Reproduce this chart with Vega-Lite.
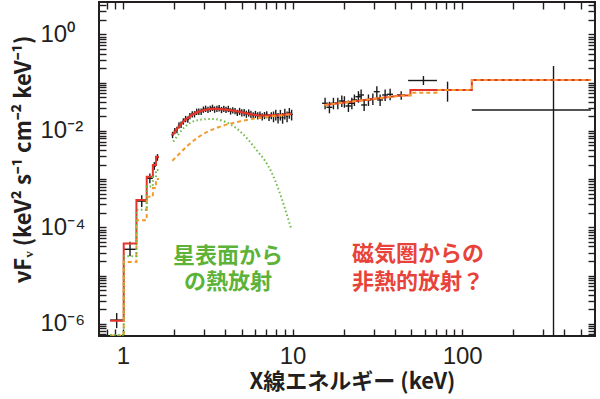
{
 "$schema": "https://vega.github.io/schema/vega-lite/v6.json",
 "width": 496, "height": 334,
 "autosize": {"type": "none"},
 "padding": {"left": 99, "top": 2, "right": 5, "bottom": 63},
 "background": "white",
 "config": {
  "view": {"stroke": "#231f20", "strokeWidth": 2},
  "axis": {"grid": false, "domain": false, "ticks": true, "tickColor": "#231f20", "tickWidth": 1.4, "labelColor": "#231f20", "titleColor": "#231f20", "labelFont": "Liberation Sans", "labelFontSize": 24, "labelOverlap": false, "labelFlush": false}
 },
 "datasets": {
  "pts": [
   {"x":0.918,"xlo":0.84,"xhi":1.0,"y":1.19e-6,"ylo":8.1e-7,"yhi":1.67e-6},
   {"x":1.10,"xlo":1.01,"xhi":1.20,"y":3.5e-5,"ylo":2.5e-5,"yhi":5.0e-5},
   {"x":1.29,"xlo":1.20,"xhi":1.38,"y":3.5e-4,"ylo":2.65e-4,"yhi":4.6e-4},
   {"x":1.44,"xlo":1.38,"xhi":1.50,"y":1.04e-3,"ylo":8.2e-4,"yhi":1.3e-3},
   {"x":1.53,"xlo":1.50,"xhi":1.565,"y":1.87e-3,"ylo":1.55e-3,"yhi":2.25e-3},
   {"x":1.597,"xlo":1.565,"xhi":1.63,"y":2.83e-3,"ylo":2.4e-3,"yhi":3.3e-3},
   {"x":1.96,"xlo":1.931,"xhi":1.989,"y":0.0083,"ylo":0.00706,"yhi":0.00955},
   {"x":2.02,"xlo":1.990,"xhi":2.050,"y":0.00998,"ylo":0.00848,"yhi":0.01148},
   {"x":2.08,"xlo":2.049,"xhi":2.111,"y":0.01056,"ylo":0.00898,"yhi":0.01214},
   {"x":2.14,"xlo":2.108,"xhi":2.172,"y":0.01313,"ylo":0.01116,"yhi":0.0151},
   {"x":2.20,"xlo":2.167,"xhi":2.233,"y":0.01358,"ylo":0.01154,"yhi":0.01562},
   {"x":2.27,"xlo":2.236,"xhi":2.304,"y":0.01586,"ylo":0.01348,"yhi":0.01824},
   {"x":2.34,"xlo":2.305,"xhi":2.375,"y":0.01781,"ylo":0.01514,"yhi":0.02048},
   {"x":2.41,"xlo":2.374,"xhi":2.446,"y":0.01729,"ylo":0.0147,"yhi":0.01988},
   {"x":2.48,"xlo":2.443,"xhi":2.517,"y":0.0204,"ylo":0.01734,"yhi":0.02346},
   {"x":2.56,"xlo":2.522,"xhi":2.598,"y":0.02236,"ylo":0.01901,"yhi":0.02571},
   {"x":2.64,"xlo":2.600,"xhi":2.680,"y":0.02234,"ylo":0.01899,"yhi":0.02569},
   {"x":2.72,"xlo":2.679,"xhi":2.761,"y":0.0252,"ylo":0.02142,"yhi":0.02898},
   {"x":2.80,"xlo":2.758,"xhi":2.842,"y":0.02525,"ylo":0.02146,"yhi":0.02904},
   {"x":2.89,"xlo":2.847,"xhi":2.933,"y":0.02522,"ylo":0.02144,"yhi":0.029},
   {"x":2.98,"xlo":2.935,"xhi":3.025,"y":0.02787,"ylo":0.02369,"yhi":0.03205},
   {"x":3.07,"xlo":3.024,"xhi":3.116,"y":0.02904,"ylo":0.02468,"yhi":0.0334},
   {"x":3.17,"xlo":3.122,"xhi":3.218,"y":0.02752,"ylo":0.02339,"yhi":0.03165},
   {"x":3.27,"xlo":3.221,"xhi":3.319,"y":0.02894,"ylo":0.0246,"yhi":0.03328},
   {"x":3.37,"xlo":3.319,"xhi":3.421,"y":0.03039,"ylo":0.02583,"yhi":0.03495},
   {"x":3.47,"xlo":3.418,"xhi":3.522,"y":0.02793,"ylo":0.02374,"yhi":0.03212},
   {"x":3.58,"xlo":3.526,"xhi":3.634,"y":0.02907,"ylo":0.02471,"yhi":0.03343},
   {"x":3.69,"xlo":3.635,"xhi":3.745,"y":0.02982,"ylo":0.02535,"yhi":0.03429},
   {"x":3.81,"xlo":3.753,"xhi":3.867,"y":0.02735,"ylo":0.02325,"yhi":0.03145},
   {"x":3.93,"xlo":3.871,"xhi":3.989,"y":0.02902,"ylo":0.02467,"yhi":0.03337},
   {"x":4.05,"xlo":3.989,"xhi":4.111,"y":0.0275,"ylo":0.02338,"yhi":0.03163},
   {"x":4.18,"xlo":4.117,"xhi":4.243,"y":0.02883,"ylo":0.02451,"yhi":0.03315},
   {"x":4.31,"xlo":4.245,"xhi":4.375,"y":0.02563,"ylo":0.02179,"yhi":0.02947},
   {"x":4.44,"xlo":4.373,"xhi":4.507,"y":0.02699,"ylo":0.02294,"yhi":0.03104},
   {"x":4.58,"xlo":4.511,"xhi":4.649,"y":0.02596,"ylo":0.02207,"yhi":0.02985},
   {"x":4.72,"xlo":4.649,"xhi":4.791,"y":0.02394,"ylo":0.02035,"yhi":0.02753},
   {"x":4.87,"xlo":4.797,"xhi":4.943,"y":0.02569,"ylo":0.02132,"yhi":0.03006},
   {"x":5.02,"xlo":4.945,"xhi":5.095,"y":0.02406,"ylo":0.01997,"yhi":0.02815},
   {"x":5.18,"xlo":5.102,"xhi":5.258,"y":0.02428,"ylo":0.02015,"yhi":0.02841},
   {"x":5.34,"xlo":5.260,"xhi":5.420,"y":0.0225,"ylo":0.01868,"yhi":0.02633},
   {"x":5.51,"xlo":5.427,"xhi":5.593,"y":0.02384,"ylo":0.01979,"yhi":0.02789},
   {"x":5.68,"xlo":5.595,"xhi":5.765,"y":0.0223,"ylo":0.01851,"yhi":0.02609},
   {"x":5.86,"xlo":5.772,"xhi":5.948,"y":0.02093,"ylo":0.01737,"yhi":0.02449},
   {"x":6.04,"xlo":5.949,"xhi":6.131,"y":0.02226,"ylo":0.01848,"yhi":0.02604},
   {"x":6.23,"xlo":6.137,"xhi":6.323,"y":0.02078,"ylo":0.01725,"yhi":0.02431},
   {"x":6.42,"xlo":6.324,"xhi":6.516,"y":0.02163,"ylo":0.01795,"yhi":0.02531},
   {"x":6.62,"xlo":6.521,"xhi":6.719,"y":0.01976,"ylo":0.0164,"yhi":0.02312},
   {"x":6.83,"xlo":6.728,"xhi":6.932,"y":0.02111,"ylo":0.01752,"yhi":0.0247},
   {"x":7.04,"xlo":6.934,"xhi":7.146,"y":0.02194,"ylo":0.01821,"yhi":0.02567},
   {"x":7.26,"xlo":7.151,"xhi":7.369,"y":0.01925,"ylo":0.01598,"yhi":0.02252},
   {"x":7.49,"xlo":7.378,"xhi":7.602,"y":0.02091,"ylo":0.01736,"yhi":0.02446},
   {"x":7.72,"xlo":7.604,"xhi":7.836,"y":0.02018,"ylo":0.01514,"yhi":0.02523},
   {"x":7.96,"xlo":7.841,"xhi":8.079,"y":0.02195,"ylo":0.01646,"yhi":0.02744},
   {"x":8.21,"xlo":8.087,"xhi":8.333,"y":0.0189,"ylo":0.01418,"yhi":0.02363},
   {"x":8.47,"xlo":8.343,"xhi":8.597,"y":0.02184,"ylo":0.01638,"yhi":0.0273},
   {"x":8.73,"xlo":8.599,"xhi":8.861,"y":0.01883,"ylo":0.01412,"yhi":0.02354},
   {"x":9.00,"xlo":8.865,"xhi":9.135,"y":0.0229,"ylo":0.01718,"yhi":0.02863},
   {"x":9.28,"xlo":9.141,"xhi":9.419,"y":0.02015,"ylo":0.01511,"yhi":0.02519},
   {"x":9.57,"xlo":9.426,"xhi":9.714,"y":0.02387,"ylo":0.0179,"yhi":0.02984},
   {"x":9.87,"xlo":9.722,"xhi":10.018,"y":0.02195,"ylo":0.01646,"yhi":0.02744},
   {"x":15.55,"xlo":14.93,"xhi":16.17,"y":0.0374,"ylo":0.0281,"yhi":0.0486},
   {"x":16.49,"xlo":15.83,"xhi":17.15,"y":0.0309,"ylo":0.0232,"yhi":0.0402},
   {"x":17.41,"xlo":16.71,"xhi":18.11,"y":0.0374,"ylo":0.0281,"yhi":0.0486},
   {"x":18.48,"xlo":17.74,"xhi":19.22,"y":0.0374,"ylo":0.0281,"yhi":0.0486},
   {"x":19.51,"xlo":18.73,"xhi":20.29,"y":0.0417,"ylo":0.0313,"yhi":0.0542},
   {"x":20.21,"xlo":19.40,"xhi":21.02,"y":0.0403,"ylo":0.0302,"yhi":0.0524},
   {"x":21.34,"xlo":20.49,"xhi":22.19,"y":0.0329,"ylo":0.0247,"yhi":0.0428},
   {"x":22.36,"xlo":21.47,"xhi":23.25,"y":0.0374,"ylo":0.0281,"yhi":0.0486},
   {"x":23.15,"xlo":22.22,"xhi":24.08,"y":0.0438,"ylo":0.0329,"yhi":0.0569},
   {"x":24.45,"xlo":23.47,"xhi":25.43,"y":0.0512,"ylo":0.0384,"yhi":0.0666},
   {"x":25.36,"xlo":24.35,"xhi":26.37,"y":0.0556,"ylo":0.0417,"yhi":0.0723},
   {"x":26.42,"xlo":25.36,"xhi":27.48,"y":0.0345,"ylo":0.0259,"yhi":0.0449},
   {"x":28.01,"xlo":26.89,"xhi":29.13,"y":0.0438,"ylo":0.0329,"yhi":0.0569},
   {"x":29.74,"xlo":28.55,"xhi":30.93,"y":0.0459,"ylo":0.0344,"yhi":0.0597},
   {"x":31.39,"xlo":30.13,"xhi":32.65,"y":0.0651,"ylo":0.0488,"yhi":0.0846},
   {"x":32.83,"xlo":31.52,"xhi":34.14,"y":0.0438,"ylo":0.0329,"yhi":0.0569},
   {"x":35.13,"xlo":33.72,"xhi":36.54,"y":0.0556,"ylo":0.0417,"yhi":0.0723},
   {"x":37.6,"xlo":36.1,"xhi":39.1,"y":0.0574,"ylo":0.0431,"yhi":0.0746},
   {"x":43.7,"xlo":41.2,"xhi":46.1,"y":0.0556,"ylo":0.0445,"yhi":0.0667},
   {"x":59.1,"xlo":48.0,"xhi":71.0,"y":0.111,"ylo":0.0896,"yhi":0.1377},
   {"x":82.0,"xlo":70.3,"xhi":114,"y":0.0706,"ylo":0.0404,"yhi":0.105},
   {"x":345.6,"xlo":114,"xhi":574,"y":0.0271,"ylo":1e-8,"yhi":0.222}
  ],
  "model": [
   {"comp":"total","part":"low","o":1,"x":0.84,"y":1.15e-6},
   {"comp":"total","part":"low","o":2,"x":1.01,"y":1.15e-6},
   {"comp":"total","part":"low","o":3,"x":1.01,"y":4.6e-5},
   {"comp":"total","part":"low","o":4,"x":1.20,"y":4.6e-5},
   {"comp":"total","part":"low","o":5,"x":1.20,"y":3.7e-4},
   {"comp":"total","part":"low","o":6,"x":1.38,"y":3.7e-4},
   {"comp":"total","part":"low","o":7,"x":1.38,"y":1.12e-3},
   {"comp":"total","part":"low","o":8,"x":1.50,"y":1.12e-3},
   {"comp":"total","part":"low","o":9,"x":1.50,"y":1.96e-3},
   {"comp":"total","part":"low","o":10,"x":1.565,"y":1.96e-3},
   {"comp":"total","part":"low","o":11,"x":1.565,"y":2.9e-3},
   {"comp":"total","part":"low","o":12,"x":1.63,"y":2.9e-3},
   {"comp":"total","part":"mid","o":1,"x":1.954,"y":0.0082},
   {"comp":"total","part":"mid","o":2,"x":2.22,"y":0.0144},
   {"comp":"total","part":"mid","o":3,"x":2.543,"y":0.0214},
   {"comp":"total","part":"mid","o":4,"x":3.046,"y":0.0272},
   {"comp":"total","part":"mid","o":5,"x":3.49,"y":0.0285},
   {"comp":"total","part":"mid","o":6,"x":4.18,"y":0.0272},
   {"comp":"total","part":"mid","o":7,"x":5.01,"y":0.0243},
   {"comp":"total","part":"mid","o":8,"x":6.01,"y":0.0214},
   {"comp":"total","part":"mid","o":9,"x":6.88,"y":0.0207},
   {"comp":"total","part":"mid","o":10,"x":8.25,"y":0.0212},
   {"comp":"total","part":"mid","o":11,"x":9.89,"y":0.0226},
   {"comp":"total","part":"high","o":1,"x":15.4,"y":0.0345},
   {"comp":"total","part":"high","o":2,"x":43.5,"y":0.054},
   {"comp":"total","part":"high","o":3,"x":49.5,"y":0.055},
   {"comp":"total","part":"high","o":4,"x":49.5,"y":0.0706},
   {"comp":"total","part":"high","o":5,"x":114,"y":0.0706},
   {"comp":"total","part":"high","o":6,"x":114,"y":0.1138},
   {"comp":"total","part":"high","o":7,"x":574,"y":0.1138},
   {"comp":"nonthermal","part":"low","o":1,"x":0.84,"y":5.7e-7},
   {"comp":"nonthermal","part":"low","o":2,"x":1.01,"y":5.7e-7},
   {"comp":"nonthermal","part":"low","o":3,"x":1.01,"y":1.9e-5},
   {"comp":"nonthermal","part":"low","o":4,"x":1.20,"y":1.9e-5},
   {"comp":"nonthermal","part":"low","o":5,"x":1.20,"y":1.4e-4},
   {"comp":"nonthermal","part":"low","o":6,"x":1.38,"y":1.4e-4},
   {"comp":"nonthermal","part":"low","o":7,"x":1.38,"y":4.3e-4},
   {"comp":"nonthermal","part":"low","o":8,"x":1.50,"y":4.3e-4},
   {"comp":"nonthermal","part":"low","o":9,"x":1.50,"y":6.5e-4},
   {"comp":"nonthermal","part":"low","o":10,"x":1.565,"y":6.5e-4},
   {"comp":"nonthermal","part":"low","o":11,"x":1.565,"y":1.0e-3},
   {"comp":"nonthermal","part":"low","o":12,"x":1.63,"y":1.0e-3},
   {"comp":"nonthermal","part":"mid","o":1,"x":1.954,"y":0.00241},
   {"comp":"nonthermal","part":"mid","o":2,"x":2.12,"y":0.0032},
   {"comp":"nonthermal","part":"mid","o":3,"x":2.4,"y":0.0049},
   {"comp":"nonthermal","part":"mid","o":4,"x":2.78,"y":0.0074},
   {"comp":"nonthermal","part":"mid","o":5,"x":3.65,"y":0.0119},
   {"comp":"nonthermal","part":"mid","o":6,"x":4.79,"y":0.0155},
   {"comp":"nonthermal","part":"mid","o":7,"x":6.28,"y":0.0186},
   {"comp":"nonthermal","part":"mid","o":8,"x":8.25,"y":0.0207},
   {"comp":"nonthermal","part":"mid","o":9,"x":9.89,"y":0.0222},
   {"comp":"nonthermal","part":"high","o":1,"x":15.4,"y":0.0345},
   {"comp":"nonthermal","part":"high","o":2,"x":43.5,"y":0.054},
   {"comp":"nonthermal","part":"high","o":3,"x":49.5,"y":0.055},
   {"comp":"nonthermal","part":"high","o":4,"x":49.5,"y":0.0621},
   {"comp":"nonthermal","part":"high","o":5,"x":70.3,"y":0.0621},
   {"comp":"nonthermal","part":"high","o":6,"x":70.3,"y":0.0706},
   {"comp":"nonthermal","part":"high","o":7,"x":114,"y":0.0706},
   {"comp":"nonthermal","part":"high","o":8,"x":114,"y":0.1138},
   {"comp":"nonthermal","part":"high","o":9,"x":574,"y":0.1138},
   {"comp":"thermal","part":"low","o":1,"x":0.84,"y":5.8e-7},
   {"comp":"thermal","part":"low","o":2,"x":1.01,"y":5.8e-7},
   {"comp":"thermal","part":"low","o":3,"x":1.01,"y":2.5e-5},
   {"comp":"thermal","part":"low","o":4,"x":1.20,"y":2.5e-5},
   {"comp":"thermal","part":"low","o":5,"x":1.20,"y":2.3e-4},
   {"comp":"thermal","part":"low","o":6,"x":1.38,"y":2.3e-4},
   {"comp":"thermal","part":"low","o":7,"x":1.38,"y":7.0e-4},
   {"comp":"thermal","part":"low","o":8,"x":1.50,"y":7.0e-4},
   {"comp":"thermal","part":"low","o":9,"x":1.50,"y":1.1e-3},
   {"comp":"thermal","part":"low","o":10,"x":1.565,"y":1.1e-3},
   {"comp":"thermal","part":"low","o":11,"x":1.565,"y":1.55e-3},
   {"comp":"thermal","part":"low","o":12,"x":1.63,"y":1.55e-3},
   {"comp":"thermal","part":"mid","o":1,"x":1.98,"y":0.006},
   {"comp":"thermal","part":"mid","o":2,"x":2.32,"y":0.0122},
   {"comp":"thermal","part":"mid","o":3,"x":2.78,"y":0.0168},
   {"comp":"thermal","part":"mid","o":4,"x":3.34,"y":0.0177},
   {"comp":"thermal","part":"mid","o":5,"x":4.0,"y":0.0155},
   {"comp":"thermal","part":"mid","o":6,"x":4.79,"y":0.0105},
   {"comp":"thermal","part":"mid","o":7,"x":5.49,"y":0.0065},
   {"comp":"thermal","part":"mid","o":8,"x":6.28,"y":0.0036},
   {"comp":"thermal","part":"mid","o":9,"x":6.88,"y":0.0024},
   {"comp":"thermal","part":"mid","o":10,"x":7.54,"y":0.00135},
   {"comp":"thermal","part":"mid","o":11,"x":8.25,"y":0.00062},
   {"comp":"thermal","part":"mid","o":12,"x":9.03,"y":0.00024},
   {"comp":"thermal","part":"mid","o":13,"x":9.8,"y":0.000095}
  ],
  "notes": [
   {"kind":"thermal","x":4.16,"y":2.54e-5,"t":"星表面から"},
   {"kind":"thermal","x":4.16,"y":7.33e-6,"t":"の熱放射"},
   {"kind":"nonthermal","x":22.44,"y":2.79e-5,"t":"磁気圏からの"},
   {"kind":"nonthermal","x":22.44,"y":7.43e-6,"t":"非熱的放射？"}
  ]
 },
 "resolve": {"axis": {"x": "independent", "y": "independent"}},
 "layer": [
  {
   "data": {"name": "pts"},
   "mark": {"type": "rule", "color": "#1a1a1a", "strokeWidth": 1.4, "clip": true},
   "encoding": {
    "x": {"field": "xlo", "type": "quantitative", "scale": {"type": "log", "domain": [0.722, 607], "nice": false},
     "axis": {"orient": "bottom",
      "values": [0.8,0.9,1,2,3,4,5,6,7,8,9,10,20,30,40,50,60,70,80,90,100,200,300,400,500,600],
      "labelExpr": "datum.value == 1 ? '1' : datum.value == 10 ? '10' : datum.value == 100 ? '100' : ''",
      "tickSize": -7, "labelPadding": 15,
      "title": "X線エネルギー (keV)", "titleFont": "Noto Sans CJK JP", "titleFontWeight": "bold", "titleFontSize": 22,
      "titleX": 253, "titleY": 45, "titleBaseline": "middle", "titleAlign": "center"}},
    "x2": {"field": "xhi"},
    "y": {"field": "y", "type": "quantitative", "scale": {"type": "log", "domain": [5.56e-7, 4.72], "nice": false},
     "axis": {"orient": "left",
      "values": [6e-7,7e-7,8e-7,9e-7,1e-6,2e-6,3e-6,4e-6,5e-6,6e-6,7e-6,8e-6,9e-6,1e-5,2e-5,3e-5,4e-5,5e-5,6e-5,7e-5,8e-5,9e-5,1e-4,2e-4,3e-4,4e-4,5e-4,6e-4,7e-4,8e-4,9e-4,0.001,0.002,0.003,0.004,0.005,0.006,0.007,0.008,0.009,0.01,0.02,0.03,0.04,0.05,0.06,0.07,0.08,0.09,0.1,0.2,0.3,0.4,0.5,0.6,0.7,0.8,0.9,1,2,3,4],
      "labelExpr": "datum.value == 1 ? '10⁰' : abs(datum.value/0.01 - 1) < 0.001 ? '10⁻²' : abs(datum.value/0.0001 - 1) < 0.001 ? '10⁻⁴' : abs(datum.value/0.000001 - 1) < 0.001 ? '10⁻⁶' : ''",
      "tickSize": -7, "labelAlign": "left", "labelPadding": 66,
      "title": "νFᵥ (keV² s⁻¹ cm⁻² keV⁻¹)", "titleFont": "Noto Sans CJK JP", "titleFontWeight": "bold", "titleFontSize": 22,
      "titleX": -76, "titleY": 157, "titleAngle": -90, "titleBaseline": "middle", "titleAlign": "center"}}
   }
  },
  {
   "data": {"name": "pts"},
   "mark": {"type": "rule", "color": "#1a1a1a", "strokeWidth": 1.4, "clip": true},
   "encoding": {
    "x": {"field": "x", "type": "quantitative", "scale": {"type": "log", "domain": [0.722, 607], "nice": false},
     "axis": {"orient": "top", "labels": false, "title": null, "tickSize": -7,
      "values": [0.8,0.9,1,2,3,4,5,6,7,8,9,10,20,30,40,50,60,70,80,90,100,200,300,400,500,600]}},
    "y": {"field": "ylo", "type": "quantitative", "scale": {"type": "log", "domain": [5.56e-7, 4.72], "nice": false},
     "axis": {"orient": "right", "labels": false, "title": null, "tickSize": -7,
      "values": [6e-7,7e-7,8e-7,9e-7,1e-6,2e-6,3e-6,4e-6,5e-6,6e-6,7e-6,8e-6,9e-6,1e-5,2e-5,3e-5,4e-5,5e-5,6e-5,7e-5,8e-5,9e-5,1e-4,2e-4,3e-4,4e-4,5e-4,6e-4,7e-4,8e-4,9e-4,0.001,0.002,0.003,0.004,0.005,0.006,0.007,0.008,0.009,0.01,0.02,0.03,0.04,0.05,0.06,0.07,0.08,0.09,0.1,0.2,0.3,0.4,0.5,0.6,0.7,0.8,0.9,1,2,3,4]}},
    "y2": {"field": "yhi"}
   }
  },
  {
   "data": {"name": "model"},
   "transform": [{"filter": "datum.comp == 'total' && datum.part != 'mid'"}],
   "mark": {"type": "line", "color": "#e5342a", "strokeWidth": 2, "clip": true},
   "encoding": {
    "x": {"field": "x", "type": "quantitative", "scale": {"type": "log", "domain": [0.722, 607], "nice": false}, "axis": null},
    "y": {"field": "y", "type": "quantitative", "scale": {"type": "log", "domain": [5.56e-7, 4.72], "nice": false}, "axis": null},
    "detail": {"field": "part"},
    "order": {"field": "o", "type": "quantitative"}
   }
  },
  {
   "data": {"name": "model"},
   "transform": [{"filter": "datum.comp == 'total' && datum.part == 'mid'"}],
   "mark": {"type": "line", "color": "#e5342a", "strokeWidth": 2.2, "interpolate": "monotone", "clip": true},
   "encoding": {
    "x": {"field": "x", "type": "quantitative", "scale": {"type": "log", "domain": [0.722, 607], "nice": false}, "axis": null},
    "y": {"field": "y", "type": "quantitative", "scale": {"type": "log", "domain": [5.56e-7, 4.72], "nice": false}, "axis": null},
    "order": {"field": "o", "type": "quantitative"}
   }
  },
  {
   "data": {"name": "model"},
   "transform": [{"filter": "datum.comp == 'nonthermal' && datum.part != 'mid'"}],
   "mark": {"type": "line", "color": "#f29a2c", "strokeWidth": 2, "strokeDash": [4, 3], "clip": true},
   "encoding": {
    "x": {"field": "x", "type": "quantitative", "scale": {"type": "log", "domain": [0.722, 607], "nice": false}, "axis": null},
    "y": {"field": "y", "type": "quantitative", "scale": {"type": "log", "domain": [5.56e-7, 4.72], "nice": false}, "axis": null},
    "detail": {"field": "part"},
    "order": {"field": "o", "type": "quantitative"}
   }
  },
  {
   "data": {"name": "model"},
   "transform": [{"filter": "datum.comp == 'nonthermal' && datum.part == 'mid'"}],
   "mark": {"type": "line", "color": "#f29a2c", "strokeWidth": 2, "strokeDash": [4, 3], "interpolate": "monotone", "clip": true},
   "encoding": {
    "x": {"field": "x", "type": "quantitative", "scale": {"type": "log", "domain": [0.722, 607], "nice": false}, "axis": null},
    "y": {"field": "y", "type": "quantitative", "scale": {"type": "log", "domain": [5.56e-7, 4.72], "nice": false}, "axis": null},
    "order": {"field": "o", "type": "quantitative"}
   }
  },
  {
   "data": {"name": "model"},
   "transform": [{"filter": "datum.comp == 'thermal' && datum.part != 'mid'"}],
   "mark": {"type": "line", "color": "#6dba44", "strokeWidth": 2, "strokeDash": [1.5, 2.5], "clip": true},
   "encoding": {
    "x": {"field": "x", "type": "quantitative", "scale": {"type": "log", "domain": [0.722, 607], "nice": false}, "axis": null},
    "y": {"field": "y", "type": "quantitative", "scale": {"type": "log", "domain": [5.56e-7, 4.72], "nice": false}, "axis": null},
    "detail": {"field": "part"},
    "order": {"field": "o", "type": "quantitative"}
   }
  },
  {
   "data": {"name": "model"},
   "transform": [{"filter": "datum.comp == 'thermal' && datum.part == 'mid'"}],
   "mark": {"type": "line", "color": "#6dba44", "strokeWidth": 2, "strokeDash": [1.5, 2.5], "interpolate": "monotone", "clip": true},
   "encoding": {
    "x": {"field": "x", "type": "quantitative", "scale": {"type": "log", "domain": [0.722, 607], "nice": false}, "axis": null},
    "y": {"field": "y", "type": "quantitative", "scale": {"type": "log", "domain": [5.56e-7, 4.72], "nice": false}, "axis": null},
    "order": {"field": "o", "type": "quantitative"}
   }
  },
  {
   "data": {"name": "notes"},
   "transform": [{"filter": "datum.kind == 'thermal'"}],
   "mark": {"type": "text", "font": "Noto Sans CJK JP", "fontWeight": "bold", "fontSize": 22, "align": "center", "baseline": "middle", "color": "#5db238"},
   "encoding": {
    "x": {"field": "x", "type": "quantitative", "scale": {"type": "log", "domain": [0.722, 607], "nice": false}, "axis": null},
    "y": {"field": "y", "type": "quantitative", "scale": {"type": "log", "domain": [5.56e-7, 4.72], "nice": false}, "axis": null},
    "text": {"field": "t"}
   }
  },
  {
   "data": {"name": "notes"},
   "transform": [{"filter": "datum.kind == 'nonthermal'"}],
   "mark": {"type": "text", "font": "Noto Sans CJK JP", "fontWeight": "bold", "fontSize": 22, "align": "left", "baseline": "middle", "color": "#e8433a"},
   "encoding": {
    "x": {"field": "x", "type": "quantitative", "scale": {"type": "log", "domain": [0.722, 607], "nice": false}, "axis": null},
    "y": {"field": "y", "type": "quantitative", "scale": {"type": "log", "domain": [5.56e-7, 4.72], "nice": false}, "axis": null},
    "text": {"field": "t"}
   }
  }
 ]
}
